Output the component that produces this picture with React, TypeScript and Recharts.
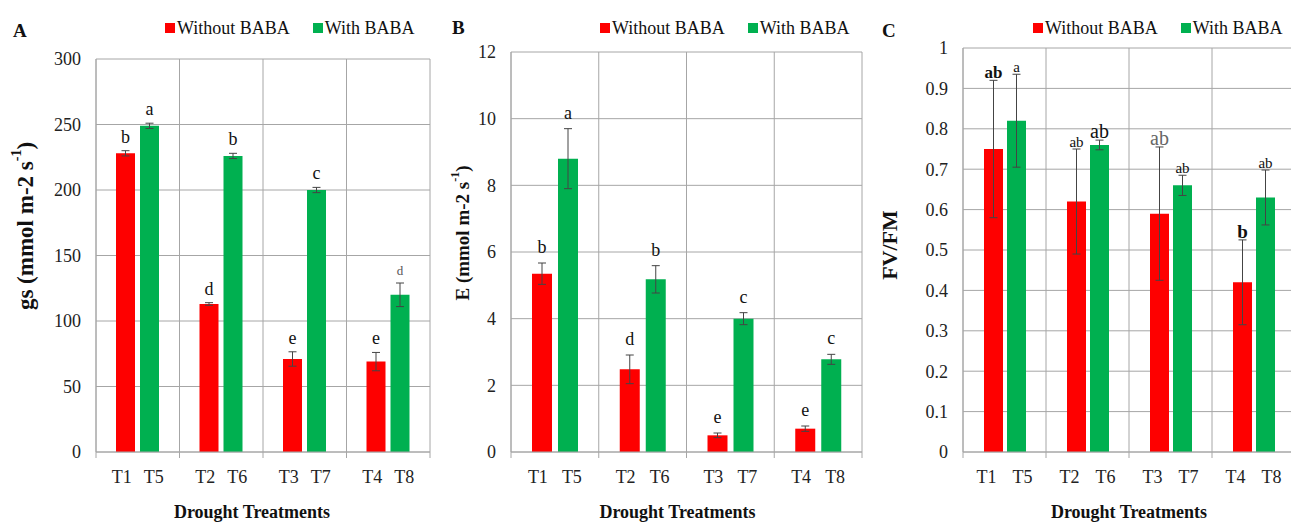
import { Bar, BarChart, CartesianGrid, ErrorBar, LabelList, Legend, XAxis, YAxis } from "recharts"

const groups = ["G1", "G2", "G3", "G4"]
const withoutTicks = ["T1", "T2", "T3", "T4"]
const withTicks = ["T5", "T6", "T7", "T8"]
const seriesNames = ["Without BABA", "With BABA"]

// A: stomatal conductance
const gsWithout = [228, 113, 71, 69]
const gsWithoutErr = [2, 1, 5.5, 7]
const gsWith = [249, 226, 200, 120]
const gsWithErr = [2, 2, 2, 9]
const gsWithoutLetters = ["b", "d", "e", "e"]
const gsWithLetters = ["a", "b", "c", "d"]
const gsTicks = [0, 50, 100, 150, 200, 250, 300]

// B: transpiration
const eWithout = [5.35, 2.48, 0.5, 0.7]
const eWithoutErr = [0.32, 0.43, 0.07, 0.08]
const eWith = [8.8, 5.18, 4.0, 2.78]
const eWithErr = [0.9, 0.41, 0.18, 0.15]
const eWithoutLetters = ["b", "d", "e", "e"]
const eWithLetters = ["a", "b", "c", "c"]
const eTicks = [0, 2, 4, 6, 8, 10, 12]

// C: Fv/Fm
const fvWithout = [0.75, 0.62, 0.59, 0.42]
const fvWithoutErr = [0.17, 0.13, 0.165, 0.105]
const fvWith = [0.82, 0.76, 0.66, 0.63]
const fvWithErr = [0.115, 0.012, 0.025, 0.068]
const fvWithoutLetters = ["ab", "ab", "ab", "b"]
const fvWithLetters = ["a", "ab", "ab", "ab"]
const fvTicks = [0, 0.1, 0.2, 0.3, 0.4, 0.5, 0.6, 0.7, 0.8, 0.9, 1]

const RED = "#fe0000"
const GREEN = "#00b050"
const GRID = "#a6a6a6"
const FONT = "'Liberation Serif', 'Times New Roman', serif"

function rows(a: number[], ae: number[], b: number[], be: number[]) {
  return groups.map((g, i) => ({
    group: g,
    without: a[i],
    withoutErr: ae[i],
    with: b[i],
    withErr: be[i],
  }))
}

type LetterStyle = { size?: number; bold?: boolean; fill?: string }

function letterLabel(
  letters: string[],
  vals: number[],
  errs: number[],
  gap: number,
  size: number,
  styles: Record<number, LetterStyle> = {}
) {
  return (props: any) => {
    const x = Number(props.x)
    const y = Number(props.y)
    const w = Number(props.width)
    const h = Number(props.height)
    const i = props.index
    const errPx = (h / vals[i]) * errs[i]
    const st = styles[i] || {}
    return (
      <text
        x={x + w / 2}
        y={y - errPx - gap}
        textAnchor="middle"
        fontFamily={FONT}
        fontSize={st.size ?? size}
        fontWeight={st.bold ? "bold" : "normal"}
        fill={st.fill ?? "#111"}
      >
        {letters[i]}
      </text>
    )
  }
}

function LegendBox({ payload }: any) {
  const items = [...(payload || [])].sort(
    (a: any, b: any) => seriesNames.indexOf(a.value) - seriesNames.indexOf(b.value)
  )
  return (
    <div
      style={{
        display: "flex",
        fontFamily: FONT,
        fontSize: 18,
        lineHeight: "20px",
        color: "#111",
        whiteSpace: "nowrap",
      }}
    >
      {items.map((p: any, i: number) => (
        <span
          key={p.value}
          style={{ display: "inline-flex", alignItems: "center", marginLeft: i ? 23 : 0 }}
        >
          <span style={{ width: 10, height: 10, background: p.color, marginRight: 2 }} />
          {p.value}
        </span>
      ))}
    </div>
  )
}

type PanelProps = {
  left: number
  width: number
  top: number
  axisWidth: number
  plotWidth: number
  barSize: number
  barGap: number
  tickShift: number
  data: any[]
  ticks: number[]
  withoutVals: number[]
  withoutErrs: number[]
  withVals: number[]
  withErrs: number[]
  withoutLetters: string[]
  withLetters: string[]
  letterGap: number
  letterSize: number
  withoutStyles?: Record<number, LetterStyle>
  withStyles?: Record<number, LetterStyle>
  letter: string
  letterX: number
  letterY: number
  legendLeft: number
  yLabel: string
  yLabelSup: boolean
  yLabelX: number
  yLabelY: number
  yLabelSize: number
  titleDx: number
}

function Panel(p: PanelProps) {
  const band = p.plotWidth / 4
  const renderTick = (t: any) => {
    const i = t.index
    const x = Number(t.x)
    const y = Number(t.y)
    const marks = [x - band / 2]
    if (i === 3) marks.push(x + band / 2)
    return (
      <g>
        {marks.map((mx) => (
          <line key={mx} x1={mx} x2={mx} y1={y - 8} y2={y - 2} stroke={GRID} />
        ))}
        <text x={x - p.tickShift} y={y + 23} textAnchor="middle" fontFamily={FONT} fontSize={18} fill="#222">
          {withoutTicks[i]}
        </text>
        <text x={x + p.tickShift} y={y + 23} textAnchor="middle" fontFamily={FONT} fontSize={18} fill="#222">
          {withTicks[i]}
        </text>
      </g>
    )
  }
  const plotLeft = p.axisWidth
  const supSize = Math.round(p.yLabelSize * 0.62)
  return (
    <div style={{ position: "absolute", left: p.left, top: 0 }}>
      <BarChart
        width={p.width}
        height={522}
        data={p.data}
        margin={{ top: p.top, right: 2, bottom: 0, left: 0 }}
        barSize={p.barSize}
        barGap={p.barGap}
      >
        <CartesianGrid
          stroke={GRID}
          strokeDasharray=""
          verticalCoordinatesGenerator={() => [0, 1, 2, 3, 4].map((k) => plotLeft + band * k)}
        />
        <XAxis
          dataKey="group"
          interval={0}
          height={70}
          axisLine={{ stroke: GRID }}
          tickLine={false}
          tick={renderTick}
        />
        <YAxis
          width={p.axisWidth}
          domain={[p.ticks[0], p.ticks[p.ticks.length - 1]]}
          ticks={p.ticks}
          interval={0}
          axisLine={{ stroke: GRID }}
          tickLine={false}
          tickMargin={9}
          tick={{ fontFamily: FONT, fontSize: 18, fill: "#222" }}
        />
        <Legend
          layout="horizontal"
          verticalAlign="middle"
          align="center"
          content={<LegendBox />}
          wrapperStyle={{ top: 18, left: p.legendLeft, width: "auto" }}
        />
        <Bar dataKey="without" name={seriesNames[0]} fill={RED} isAnimationActive={false}>
          <ErrorBar dataKey="withoutErr" width={4} stroke="#444" strokeWidth={1} />
          <LabelList
            dataKey="without"
            content={letterLabel(p.withoutLetters, p.withoutVals, p.withoutErrs, p.letterGap, p.letterSize, p.withoutStyles)}
          />
        </Bar>
        <Bar dataKey="with" name={seriesNames[1]} fill={GREEN} isAnimationActive={false}>
          <ErrorBar dataKey="withErr" width={4} stroke="#444" strokeWidth={1} />
          <LabelList
            dataKey="with"
            content={letterLabel(p.withLetters, p.withVals, p.withErrs, p.letterGap, p.letterSize, p.withStyles)}
          />
        </Bar>
        <text x={p.letterX} y={p.letterY} fontFamily={FONT} fontSize={19} fontWeight="bold" fill="#111">
          {p.letter}
        </text>
        <text
          transform={`translate(${p.yLabelX},${p.yLabelY}) rotate(-90)`}
          textAnchor="middle"
          dominantBaseline="central"
          fontFamily={FONT}
          fontSize={p.yLabelSize}
          fontWeight="bold"
          fill="#111"
        >
          {p.yLabel}
          {p.yLabelSup && (
            <>
              <tspan dy={-p.yLabelSize * 0.38} fontSize={supSize}>-1</tspan>
              <tspan dy={p.yLabelSize * 0.38}>)</tspan>
            </>
          )}
        </text>
        <text
          x={plotLeft + p.plotWidth / 2 + p.titleDx}
          y={518}
          textAnchor="middle"
          fontFamily={FONT}
          fontSize={18}
          fontWeight="bold"
          fill="#111"
        >
          Drought Treatments
        </text>
      </BarChart>
    </div>
  )
}

export default function App() {
  return (
    <div
      style={{
        position: "absolute",
        left: 0,
        top: 0,
        width: 1291,
        height: 522,
        overflow: "hidden",
        background: "#fff",
      }}
    >
      <Panel
        left={0}
        width={432}
        top={59}
        axisWidth={96}
        plotWidth={334}
        barSize={19}
        barGap={5}
        tickShift={16}
        data={rows(gsWithout, gsWithoutErr, gsWith, gsWithErr)}
        ticks={gsTicks}
        withoutVals={gsWithout}
        withoutErrs={gsWithoutErr}
        withVals={gsWith}
        withErrs={gsWithErr}
        withoutLetters={gsWithoutLetters}
        withLetters={gsWithLetters}
        letterGap={8}
        letterSize={18}
        withStyles={{ 3: { size: 13, fill: "#555" } }}
        letter="A"
        letterX={13}
        letterY={37}
        legendLeft={165}
        yLabel="gs (mmol m-2 s"
        yLabelSup={true}
        yLabelX={25}
        yLabelY={226}
        yLabelSize={23}
        titleDx={-11}
      />
      <Panel
        left={430}
        width={434}
        top={52}
        axisWidth={81}
        plotWidth={351}
        barSize={20}
        barGap={6}
        tickShift={17}
        data={rows(eWithout, eWithoutErr, eWith, eWithErr)}
        ticks={eTicks}
        withoutVals={eWithout}
        withoutErrs={eWithoutErr}
        withVals={eWith}
        withErrs={eWithErr}
        withoutLetters={eWithoutLetters}
        withLetters={eWithLetters}
        letterGap={10}
        letterSize={18}
        letter="B"
        letterX={22}
        letterY={34}
        legendLeft={170}
        yLabel="E (mmol m-2 s"
        yLabelSup={true}
        yLabelX={32}
        yLabelY={233}
        yLabelSize={19}
        titleDx={-9}
      />
      <Panel
        left={860}
        width={437}
        top={48}
        axisWidth={103}
        plotWidth={332}
        barSize={19}
        barGap={4}
        tickShift={18}
        data={rows(fvWithout, fvWithoutErr, fvWith, fvWithErr)}
        ticks={fvTicks}
        withoutVals={fvWithout}
        withoutErrs={fvWithoutErr}
        withVals={fvWith}
        withErrs={fvWithErr}
        withoutLetters={fvWithoutLetters}
        withLetters={fvWithLetters}
        letterGap={2}
        letterSize={15}
        withoutStyles={{ 0: { size: 17, bold: true }, 2: { size: 20, fill: "#666" }, 3: { size: 19, bold: true } }}
        withStyles={{ 1: { size: 20 } }}
        letter="C"
        letterX={22}
        letterY={37}
        legendLeft={173}
        yLabel="FV/FM"
        yLabelSup={false}
        yLabelX={29}
        yLabelY={245}
        yLabelSize={22}
        titleDx={0}
      />
    </div>
  )
}
